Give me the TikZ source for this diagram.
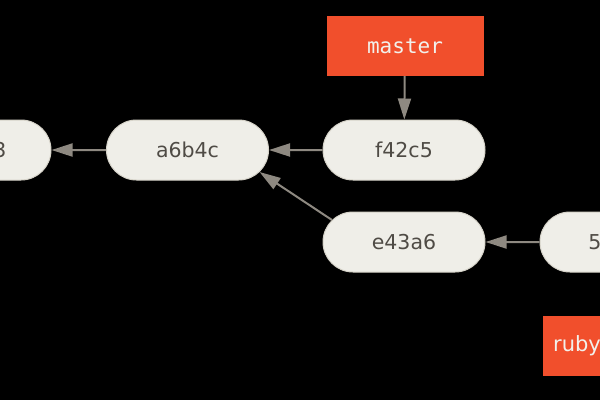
\documentclass[tikz,border=0pt]{standalone}
\usepackage{fontspec}
\setmainfont{DejaVu Sans}
\newfontfamily\branchfont{DejaVu Sans Mono}
\usetikzlibrary{shapes.misc,arrows.meta}
\definecolor{commitfill}{HTML}{EFEEE8}
\definecolor{commitline}{HTML}{D6D3C9}
\definecolor{committext}{HTML}{4F4B45}
\definecolor{branchred}{HTML}{F14F2C}
\definecolor{branchtext}{HTML}{F2F1EC}
\definecolor{arrowgray}{HTML}{8E8981}

\begin{document}
\begin{tikzpicture}[x=1pt,y=-1pt,
		commit/.style={rounded rectangle, draw=commitline, line width=1pt, fill=commitfill, text=committext,
			minimum width=162pt, minimum height=60pt, inner sep=0pt, font=\fontsize{20.5}{24}\selectfont},
		branch/.style={rectangle, fill=branchred, text=branchtext, minimum height=60pt, inner sep=0pt,
			font=\branchfont\fontsize{21}{24}\selectfont},
		ptr/.style={draw=arrowgray, line width=2pt, -{Triangle[length=21pt,width=13pt]}}]
		\useasboundingbox (0,0) rectangle (600,400);
		\fill[black] (0,0) rectangle (600,400);
		\clip (0,0) rectangle (600,400);
		\node[commit, minimum width=152pt] (98ca3) at (-25,150) {98ca3};
		\node[commit] (a6b4c) at (187.5,150) {a6b4c};
		\node[commit] (f42c5) at (404,150) {f42c5};
		\node[commit] (e43a6) at (404,242) {e43a6};
		\node[commit] (5ddb2) at (621,242) {5ddb2};
		\node[branch, minimum width=157pt] (master) at (405,46) {master};
		\node[branch, minimum width=68pt, font=\fontsize{21}{24}\selectfont] (ruby) at (577,346) {ruby};
		\draw[ptr] (a6b4c) -- (98ca3);
		\draw[ptr] (f42c5) -- (a6b4c);
		\draw[ptr] (e43a6.163) -- (a6b4c.-17);
		\draw[ptr] (5ddb2) -- (e43a6);
		\draw[ptr] (master) -- (f42c5);
	\end{tikzpicture}
\end{document}
